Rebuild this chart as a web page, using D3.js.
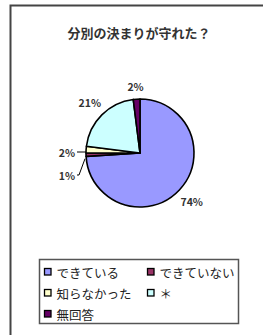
<!DOCTYPE html>
<html>
<head>
<meta charset="utf-8">
<script src="https://cdn.jsdelivr.net/npm/d3@7"></script>
<style>
  body { margin: 0; background: #fff; }
  svg { display: block; font-family: "Noto Sans CJK JP", sans-serif; }
</style>
</head>
<body>
<div id="chart"></div>
<script>
// chart data
const title = "分別の決まりが守れた？";
const categories = ["できている", "できていない", "知らなかった", "＊", "無回答"];
const values = [74, 1, 2, 21, 2];
const colors = ["#9999FF", "#993366", "#FFFFCC", "#CCFFFF", "#660066"];

const width = 263, height = 335;
const cx = 140, cy = 153, radius = 54;

const svg = d3.select("#chart")
  .append("svg")
  .attr("width", width)
  .attr("height", height);

// outer frame (clipped at right / bottom like the original)
svg.append("path")
  .attr("d", `M${width + 2},5.5 H10.5 V${height + 2}`)
  .attr("fill", "none")
  .attr("stroke", "#444")
  .attr("stroke-width", 2);

svg.append("text")
  .attr("x", 139)
  .attr("y", 32)
  .attr("text-anchor", "middle")
  .attr("dominant-baseline", "central")
  .style("font-size", "13px")
  .style("font-weight", "bold")
  .style("fill", "#333")
  .text(title);

const pie = d3.pie().sort(null).value((d) => d)(values);
const arc = d3.arc().innerRadius(0).outerRadius(radius);

const g = svg.append("g").attr("transform", `translate(${cx},${cy})`);

g.selectAll("path.slice")
  .data(pie)
  .enter()
  .append("path")
  .attr("class", "slice")
  .attr("d", arc)
  .attr("fill", (d, i) => colors[i])
  .attr("stroke", "#000")
  .attr("stroke-width", 1.6)
  .attr("stroke-linejoin", "round");

// labels: big slices sit outside on their mid angle, the two small ones get leader lines
const labelArc = d3.arc().innerRadius(71).outerRadius(71);
const smallIdx = { 1: { dx: -72, dy: 22 }, 2: { dx: -72, dy: -1 } };

pie.forEach((d, i) => {
  const txt = values[i] + "%";
  if (smallIdx[i]) {
    const mid = (d.startAngle + d.endAngle) / 2;
    const ex = Math.sin(mid) * radius, ey = -Math.cos(mid) * radius;
    const lx = smallIdx[i].dx, ly = smallIdx[i].dy;
    const line = i === 1
      ? `M${lx + 9},${ly} L${lx + 11},${ly} L${ex - 1},${ey + 4}`
      : `M${lx + 9},${ly} L${ex},${ly}`;
    g.append("path")
      .attr("d", line)
      .attr("fill", "none")
      .attr("stroke", "#000")
      .attr("stroke-width", 1);
    g.append("text")
      .attr("x", lx + 7)
      .attr("y", ly)
      .attr("text-anchor", "end")
      .attr("dominant-baseline", "central")
      .style("font-size", "10.5px")
      .style("font-weight", "bold")
      .style("fill", "#333")
      .text(txt);
  } else {
    const [x, y] = labelArc.centroid(d);
    g.append("text")
      .attr("x", x)
      .attr("y", y + (i === 4 ? 4 : 0))
      .attr("text-anchor", "middle")
      .attr("dominant-baseline", "central")
      .style("font-size", "10.5px")
      .style("font-weight", "bold")
      .style("fill", "#333")
      .text(txt);
  }
});

// legend
const legend = svg.append("g");
legend.append("rect")
  .attr("x", 39.5)
  .attr("y", 259.5)
  .attr("width", 199)
  .attr("height", 64)
  .attr("fill", "#fff")
  .attr("stroke", "#555")
  .attr("stroke-width", 1.5);

const colX = [44, 147];
const rowY = [272, 293, 314];

categories.forEach((c, i) => {
  const x = colX[i % 2], y = rowY[Math.floor(i / 2)];
  legend.append("rect")
    .attr("x", x + 0.5)
    .attr("y", y - 3.5)
    .attr("width", 6.5)
    .attr("height", 6.5)
    .attr("fill", colors[i])
    .attr("stroke", "#000")
    .attr("stroke-width", 1.3);
  legend.append("text")
    .attr("x", x + 12.5)
    .attr("y", y)
    .attr("dominant-baseline", "central")
    .style("font-size", "12.5px")
    .style("fill", "#222")
    .text(c);
});
</script>
</body>
</html>
